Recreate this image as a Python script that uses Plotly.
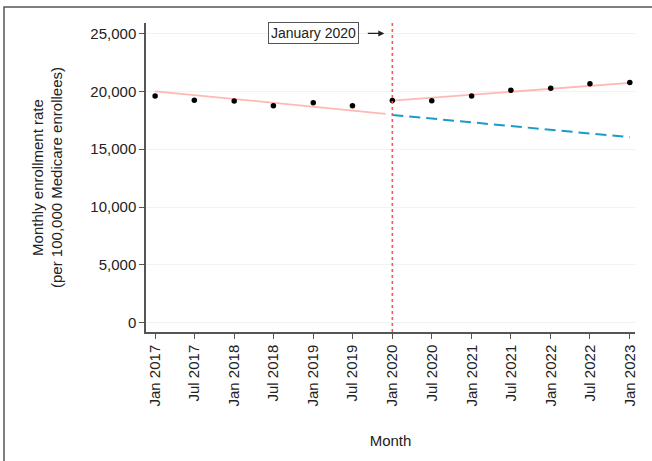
import plotly.graph_objects as go

# Semi-annual observed rates
obs_dates = ["2017-01-01", "2017-07-01", "2018-01-01", "2018-07-01", "2019-01-01",
             "2019-07-01", "2020-01-01", "2020-07-01", "2021-01-01", "2021-07-01",
             "2022-01-01", "2022-07-01", "2023-01-01"]
obs_values = [19600, 19220, 19160, 18760, 19000, 18760, 19200,
              19190, 19600, 20090, 20260, 20640, 20760]

# Fitted trends
pre_dates = ["2017-01-01", "2019-12-01"]
pre_values = [20000, 18050]
post_dates = ["2020-01-01", "2023-01-01"]
post_values = [19190, 20730]
cf_dates = ["2020-01-01", "2023-01-01"]
cf_values = [17960, 16030]

y_ticks = [0, 5000, 10000, 15000, 20000, 25000]
break_date = "2020-01-01"

FONT = "Liberation Sans, Arial, sans-serif"

fig = go.Figure()
fig.add_trace(go.Scatter(x=pre_dates, y=pre_values, mode="lines",
                         line=dict(color="#ffb8b3", width=1.8), showlegend=False))
fig.add_trace(go.Scatter(x=post_dates, y=post_values, mode="lines",
                         line=dict(color="#ffb8b3", width=1.8), showlegend=False))
fig.add_trace(go.Scatter(x=cf_dates, y=cf_values, mode="lines",
                         line=dict(color="#1b9cc8", width=2, dash="11px,6px"), showlegend=False))
fig.add_trace(go.Scatter(x=obs_dates, y=obs_values, mode="markers",
                         marker=dict(color="black", size=5.5), showlegend=False))

fig.add_shape(type="line", xref="x", yref="paper", x0=break_date, x1=break_date,
              y0=0, y1=1, line=dict(color="#f05a5a", width=1.6, dash="dot"))

# Outer border (left edge at 4px, top edge at 7px)
fig.add_shape(type="rect", xref="paper", yref="paper", x0=-142 / 489, x1=2.0,
              y0=-2.0, y1=1 + 16 / 309, line=dict(color="#555555", width=1.5))

fig.add_annotation(x="2019-01-01", y=25000, xref="x", yref="y", text="January 2020",
                   showarrow=False, bordercolor="#555555", borderwidth=1, borderpad=2,
                   bgcolor="white", font=dict(family=FONT, size=14, color="#222222"))
fig.add_annotation(x="2019-11-25", y=25000, xref="x", yref="y", text="",
                   showarrow=True, ax=-18, ay=0, arrowhead=2, arrowsize=1,
                   arrowwidth=1.2, arrowcolor="#222222")

fig.update_layout(
    width=652, height=461,
    margin=dict(l=146, r=17, t=23, b=129),
    plot_bgcolor="white", paper_bgcolor="white",
    font=dict(family=FONT, size=15, color="#222222"),
    xaxis=dict(
        type="date", range=["2016-11-20", "2023-01-25"], automargin=False,
        tick0="2017-01-01", dtick="M6", tickformat="%b %Y", tickangle=-90,
        ticks="outside", ticklen=5, tickcolor="#555555",
        showline=True, linecolor="#555555", linewidth=1.5, showgrid=False,
        zeroline=False, tickfont=dict(size=15),
        title=dict(text="Month", font=dict(size=15), standoff=30),
    ),
    yaxis=dict(
        range=[-800, 25900], tickvals=y_ticks, tickformat=",", automargin=False,
        ticks="outside", ticklen=5, tickcolor="#555555",
        showline=True, linecolor="#555555", linewidth=1.5,
        showgrid=True, gridcolor="#eef4f3", gridwidth=1, zeroline=False,
        tickfont=dict(size=15),
        title=dict(text="Monthly enrollment rate<br>(per 100,000 Medicare enrollees)",
                   font=dict(size=15), standoff=24),
    ),
)

fig.write_html("out.html", config={"displayModeBar": False},
               post_script="document.body.style.margin='0px';")
